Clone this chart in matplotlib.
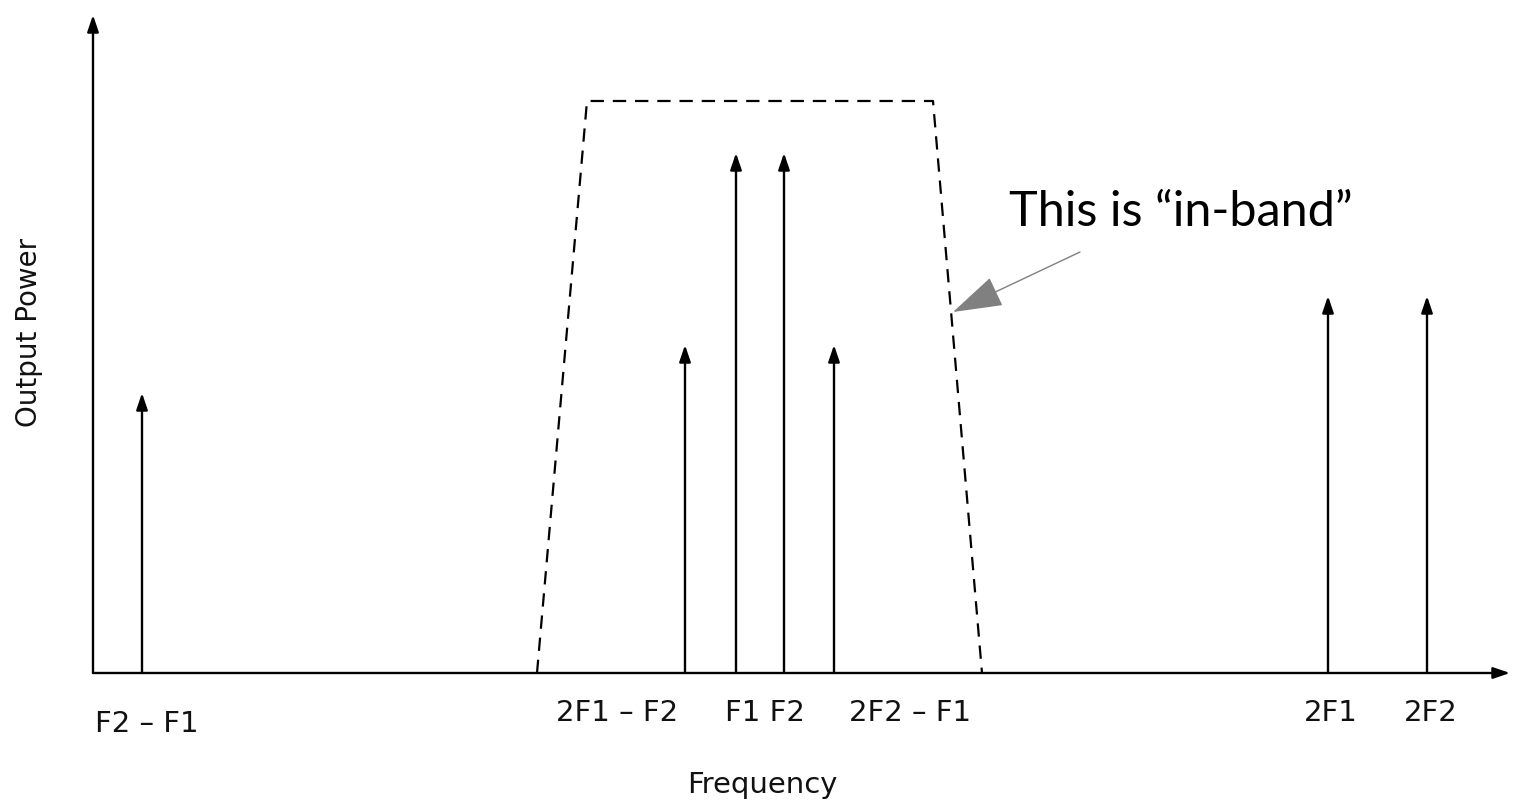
import matplotlib
matplotlib.use("Agg")
import matplotlib.pyplot as plt

# Spectral components: frequency position and output power (arbitrary units)
tone_freqs = [49, 592, 643, 691, 741, 1235, 1334]
tone_powers = [280, 328, 520, 520, 328, 377, 377]

# Frequency-axis labels: text, x centre, vertical offset below the axis
axis_labels = ["F2 \u2013 F1", "2F1 \u2013 F2", "F1 F2", "2F2 \u2013 F1", "2F1", "2F2"]
axis_label_x = [54, 524, 672, 817, 1238, 1338]
axis_label_y = [-51, -40, -40, -40, -40, -40]

# Passband mask (trapezoid) corners
band_x = [444, 494, 840, 889]
band_y = [0, 572, 572, 0]

W, H = 1513, 802
fig = plt.figure(figsize=(W / 100, H / 100), dpi=100)
x0, y0 = 93, 673
x1, y1 = 1510, 15
ax = fig.add_axes([x0 / W, (H - y0) / H, (x1 - x0) / W, (y0 - y1) / H])
ax.set_xlim(0, x1 - x0)
ax.set_ylim(0, y0 - y1)
ax.axis("off")

label_font = "DejaVu Sans"
head = dict(arrowstyle="-|>,head_length=0.5,head_width=0.17", color="black",
            lw=1.7, mutation_scale=20, shrinkA=0, shrinkB=0)

# Axes with arrowheads
ax.annotate("", xy=(0, y0 - y1), xytext=(0, 0), arrowprops=head, annotation_clip=False)
ax.annotate("", xy=(x1 - x0, 0), xytext=(0, 0), arrowprops=head, annotation_clip=False)

# Spectral lines
for f, p in zip(tone_freqs, tone_powers):
    ax.annotate("", xy=(f, p), xytext=(f, 0), arrowprops=head, annotation_clip=False)

# Passband mask
ax.plot(band_x, band_y, color="black", lw=1.6, ls=(0, (6, 4)), clip_on=False)

# Frequency labels
for t, x, y in zip(axis_labels, axis_label_x, axis_label_y):
    ax.text(x, y, t, ha="center", va="center", fontsize=21, family=label_font,
            color="#111111", clip_on=False)

ax.text(669, -112, "Frequency", ha="center", va="center", fontsize=21,
        family=label_font, color="#111111", clip_on=False)
ax.text(-64, 341, "Output Power", ha="center", va="center", rotation=90,
        fontsize=20, family=label_font, color="#111111", clip_on=False)

# Callout text and its pointer
ax.text(1088, 461, "This is \u201cin-band\u201d", ha="center", va="center",
        fontsize=35, family="Lato", color="black", clip_on=False)
ax.annotate("", xy=(860, 361), xytext=(987, 421), annotation_clip=False,
            arrowprops=dict(arrowstyle="-|>,head_length=1.6,head_width=0.5",
                            color="#808080", lw=1, mutation_scale=20,
                            shrinkA=0, shrinkB=0))

fig.savefig("out.png", dpi=100)
